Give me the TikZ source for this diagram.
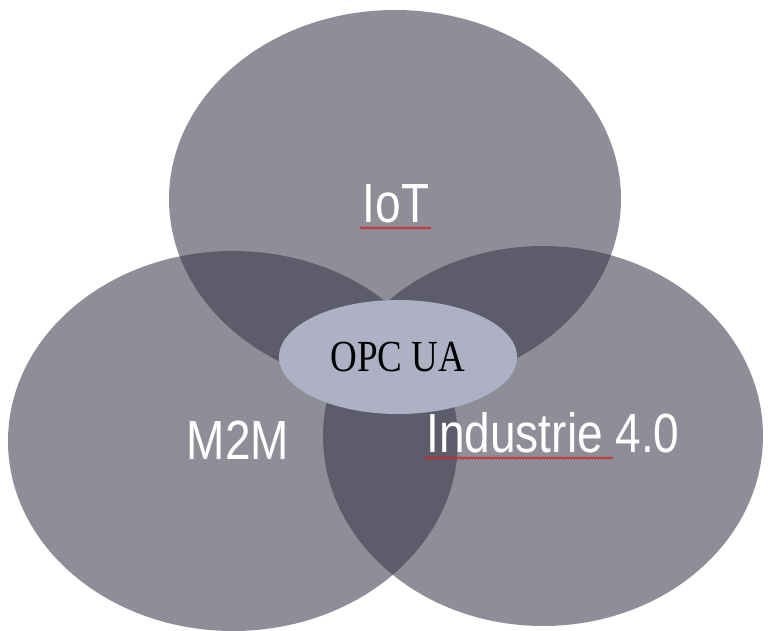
\documentclass[tikz,border=0pt]{standalone}
\usepackage{fontspec}
\setmainfont{Liberation Serif}
\newfontfamily\labelfont{Liberation Sans}
\usepackage{tikz}
\usetikzlibrary{shapes.geometric,decorations.pathmorphing}
\definecolor{vennfill}{RGB}{50,50,68}
\definecolor{opcfill}{RGB}{174,176,196}
\definecolor{spellred}{RGB}{205,40,40}
\newcommand{\labelsize}{\fontsize{46}{50}\selectfont}
\newcommand{\tall}[1]{\scalebox{1}[1.2]{#1}}

\begin{document}
\begin{tikzpicture}[x=1pt,y=-1pt,
  venn/.style={fill=vennfill, fill opacity=.55},
  lbl/.style={text=white, font=\labelfont\labelsize, inner sep=0pt, anchor=base},
  wavy/.style={draw=spellred, line width=1.1pt, decorate,
    decoration={snake, amplitude=.8pt, segment length=3pt}}]
\useasboundingbox (0,0) rectangle (769,631);

% the three sets
\fill[venn] (395,199) ellipse [x radius=226, y radius=189];
\fill[venn] (233,441) ellipse [x radius=225, y radius=190];
\fill[venn] (543,436) ellipse [x radius=220, y radius=190];

\node (opc) at (398,357) [ellipse, fill=opcfill, inner sep=0pt,
  minimum width=238, minimum height=114,
  font=\fontsize{37}{40}\selectfont] {\tall{OPC UA}};

% labels
\node (iot) at (396,223) [lbl] {\tall{IoT}};
\node (m2m) at (238,459) [lbl] {\tall{M2M}};
\node (ind) at (553,452) [lbl] {\tall{Industrie 4.0}};

\draw[wavy] (360,228) -- (431,228);
\draw[wavy] (425,458) -- (613,458);

\end{tikzpicture}
\end{document}
